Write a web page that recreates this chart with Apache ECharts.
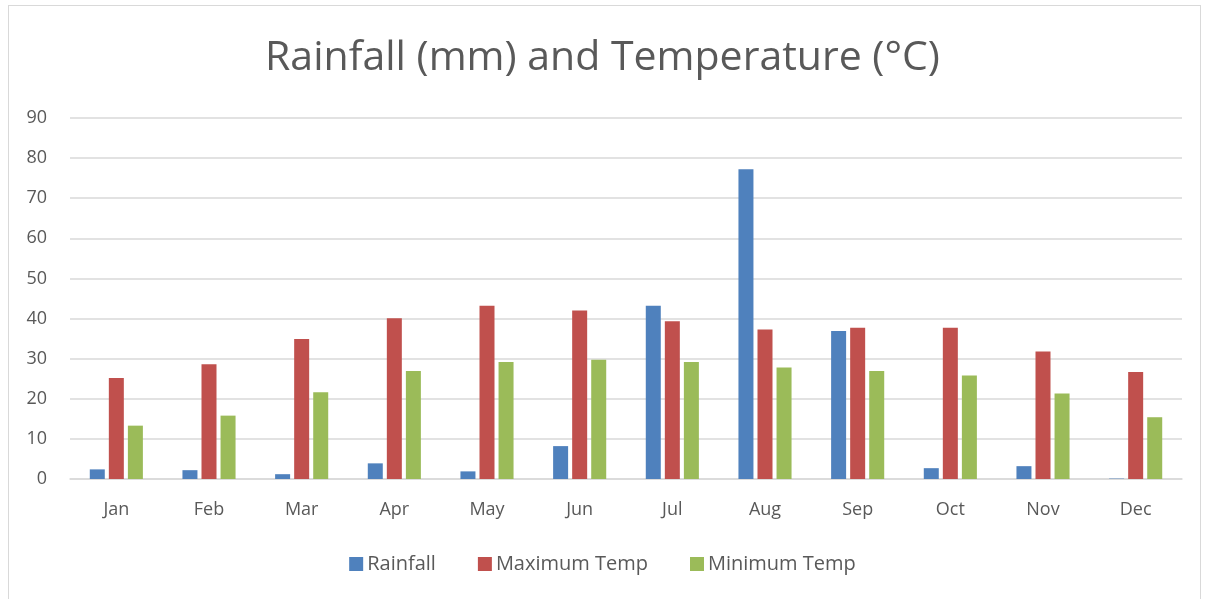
<!DOCTYPE html>
<html>
<head>
<meta charset="utf-8">
<script src="https://cdn.jsdelivr.net/npm/echarts@6/dist/echarts.min.js"></script>
<style>
html,body{margin:0;padding:0;background:#fff;}
#frame{position:absolute;left:8px;top:5px;width:1193px;height:600px;border:1px solid #D9D9D9;box-sizing:border-box;}
#chart{position:absolute;left:0;top:0;width:1205px;height:599px;}
</style>
</head>
<body>
<div id="frame"></div>
<div id="chart"></div>
<script>
const months = ['Jan','Feb','Mar','Apr','May','Jun','Jul','Aug','Sep','Oct','Nov','Dec'];
const rainfall = [2.4, 2.2, 1.2, 3.9, 1.9, 8.2, 43.2, 77.2, 36.9, 2.7, 3.2, 0.1];
const maxTemp = [25.2, 28.6, 34.9, 40.1, 43.2, 42.0, 39.3, 37.3, 37.7, 37.7, 31.8, 26.7];
const minTemp = [13.3, 15.8, 21.6, 26.9, 29.2, 29.7, 29.2, 27.8, 26.9, 25.8, 21.3, 15.4];
const yTicks = [0, 10, 20, 30, 40, 50, 60, 70, 80, 90];
const titleText = 'Rainfall (mm) and Temperature (°C)';
const seriesNames = ['Rainfall', 'Maximum Temp', 'Minimum Temp'];
const colors = ['#4F81BD', '#C0504D', '#9BBB59'];

const chart = echarts.init(document.getElementById('chart'));
const font = 'Open Sans';
const mk = (name, data, color) => ({
  name, type: 'bar', data,
  barWidth: 15, barGap: '27%',
  itemStyle: { color },
  emphasis: { disabled: true }
});
chart.setOption({
  animation: false,
  color: colors,
  title: {
    text: titleText, left: 'center', top: 33,
    textStyle: { fontFamily: font, fontSize: 41, fontWeight: 'normal', color: '#595959' }
  },
  legend: {
    bottom: 20, left: 'center', itemWidth: 14, itemHeight: 14, itemGap: 42,
    icon: 'rect',
    textStyle: { fontFamily: font, fontSize: 20, color: '#595959', padding: [0, 0, 0, -1] },
    data: seriesNames
  },
  grid: { left: 70, right: 23, top: 118, bottom: 120 },
  xAxis: {
    type: 'category', data: months,
    axisLine: { lineStyle: { color: '#D9D9D9', width: 1.5 } },
    axisTick: { show: false },
    axisLabel: { fontFamily: font, fontSize: 18, color: '#595959', margin: 22 }
  },
  yAxis: {
    type: 'value', min: yTicks[0], max: yTicks[yTicks.length - 1], interval: 10,
    axisLine: { show: false }, axisTick: { show: false },
    splitLine: { lineStyle: { color: '#D9D9D9', width: 1.5 } },
    axisLabel: { fontFamily: font, fontSize: 18, color: '#595959', margin: 23 }
  },
  series: [
    mk(seriesNames[0], rainfall, colors[0]),
    mk(seriesNames[1], maxTemp, colors[1]),
    mk(seriesNames[2], minTemp, colors[2])
  ]
});
</script>
</body>
</html>
